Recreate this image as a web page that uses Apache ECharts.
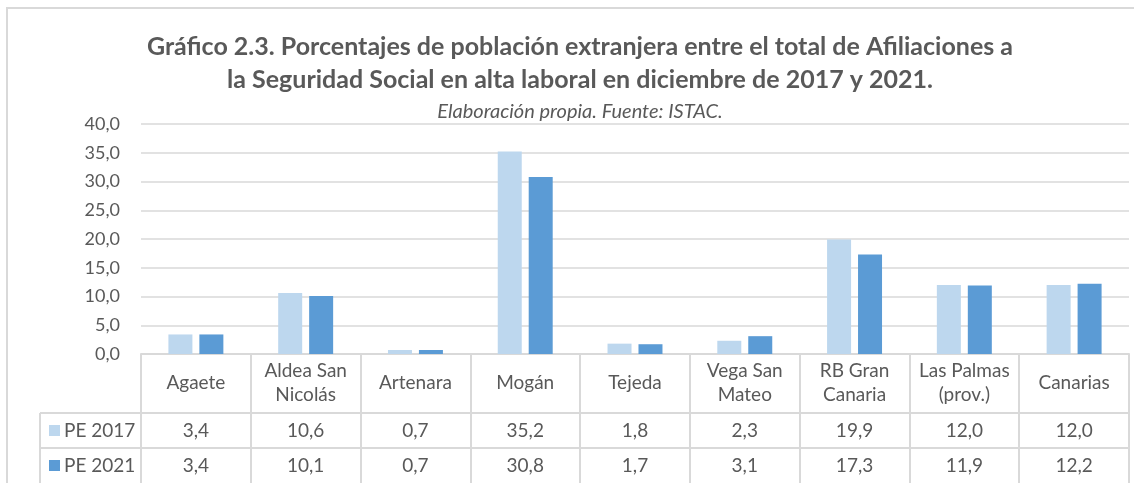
<!DOCTYPE html>
<html>
<head>
<meta charset="utf-8">
<script src="https://cdn.jsdelivr.net/npm/echarts@6/dist/echarts.min.js"></script>
<style>
  html, body { margin: 0; padding: 0; background: #fff; }
  #main { width: 1134px; height: 483px; }
</style>
</head>
<body>
<div id="main"></div>
<script>
// municipios / ámbitos
const categories = ['Agaete', 'Aldea San\nNicolás', 'Artenara', 'Mogán', 'Tejeda', 'Vega San\nMateo', 'RB Gran\nCanaria', 'Las Palmas\n(prov.)', 'Canarias'];
const seriesNames = ['PE 2017', 'PE 2021'];
const pe2017 = [3.4, 10.6, 0.7, 35.2, 1.8, 2.3, 19.9, 12.0, 12.0];
const pe2021 = [3.4, 10.1, 0.7, 30.8, 1.7, 3.1, 17.3, 11.9, 12.2];
const yTicks = [0, 40, 5]; // min, max, interval

const colors = ['#BDD7EE', '#5B9BD5'];
const txt = '#595959';
const lineCol = '#d9d9d9';
const font = 'Lato';
const fs = 19;

const fmt = v => v.toFixed(1).replace('.', ',');

const chart = echarts.init(document.getElementById('main'));

const option = {
  animation: false,
  backgroundColor: '#fff',
  textStyle: { fontFamily: font },
  title: [
    {
      text: 'Gráfico 2.3. Porcentajes de población extranjera entre el total de Afiliaciones a\nla Seguridad Social en alta laboral en diciembre de 2017 y 2021.',
      left: 575,
      top: 25,
      textAlign: 'center',
      textStyle: { fontFamily: font, fontSize: 25, fontWeight: 'bold', color: txt, lineHeight: 33 }
    },
    {
      text: 'Elaboración propia. Fuente: ISTAC.',
      left: 575,
      top: 97,
      textAlign: 'center',
      textStyle: { fontFamily: font, fontSize: 20, fontStyle: 'italic', fontWeight: 'normal', color: txt }
    }
  ],
  grid: { left: 141, right: 5, top: 124, bottom: 129 },
  xAxis: {
    type: 'category',
    data: categories,
    axisLine: { lineStyle: { color: lineCol, width: 2 } },
    axisTick: { show: true, length: 129, lineStyle: { color: lineCol, width: 2 } },
    axisLabel: {
      interval: 0,
      margin: 29,
      verticalAlign: 'middle',
      fontSize: fs,
      lineHeight: 24,
      color: txt,
      fontFamily: font
    }
  },
  yAxis: {
    type: 'value',
    min: yTicks[0],
    max: yTicks[1],
    interval: yTicks[2],
    axisLine: { show: false },
    axisTick: { show: false },
    axisLabel: { formatter: v => fmt(v), fontSize: 18, color: txt, margin: 21, fontFamily: font },
    splitLine: { lineStyle: { color: lineCol, width: 1.5 } }
  },
  series: [
    { name: seriesNames[0], type: 'bar', data: pe2017, barWidth: 24, barGap: '29%', itemStyle: { color: colors[0] } },
    { name: seriesNames[1], type: 'bar', data: pe2021, barWidth: 24, itemStyle: { color: colors[1] } }
  ]
};

chart.setOption(option);

// tabla de datos bajo el gráfico
const rowTop = [413, 448];
const rowH = 35;
const tableLeft = 40;
const plotRight = 1129;
const rows = [pe2017, pe2021];

const g = [];
// borde exterior
g.push({ type: 'rect', shape: { x: 7, y: 8, width: 1150, height: 520 }, style: { fill: null, stroke: lineCol, lineWidth: 2 }, silent: true });
rowTop.forEach(y => {
  g.push({ type: 'line', shape: { x1: tableLeft, y1: y, x2: plotRight, y2: y }, style: { stroke: lineCol, lineWidth: 2 }, silent: true });
});
g.push({ type: 'line', shape: { x1: tableLeft, y1: rowTop[0], x2: tableLeft, y2: 490 }, style: { stroke: lineCol, lineWidth: 2 }, silent: true });

rows.forEach((vals, r) => {
  const cy = rowTop[r] + rowH / 2;
  g.push({ type: 'rect', shape: { x: 49, y: cy - 5.5, width: 11, height: 11 }, style: { fill: colors[r] }, silent: true });
  g.push({ type: 'text', x: 64, y: cy, style: { text: seriesNames[r], fontFamily: font, fontSize: fs, fill: txt, textVerticalAlign: 'middle' }, silent: true });
  vals.forEach((v, i) => {
    const cx = chart.convertToPixel({ xAxisIndex: 0 }, i);
    g.push({ type: 'text', x: cx, y: cy, style: { text: fmt(v), fontFamily: font, fontSize: fs, fill: txt, textAlign: 'center', textVerticalAlign: 'middle' }, silent: true });
  });
});

chart.setOption({ graphic: g });
</script>
</body>
</html>
